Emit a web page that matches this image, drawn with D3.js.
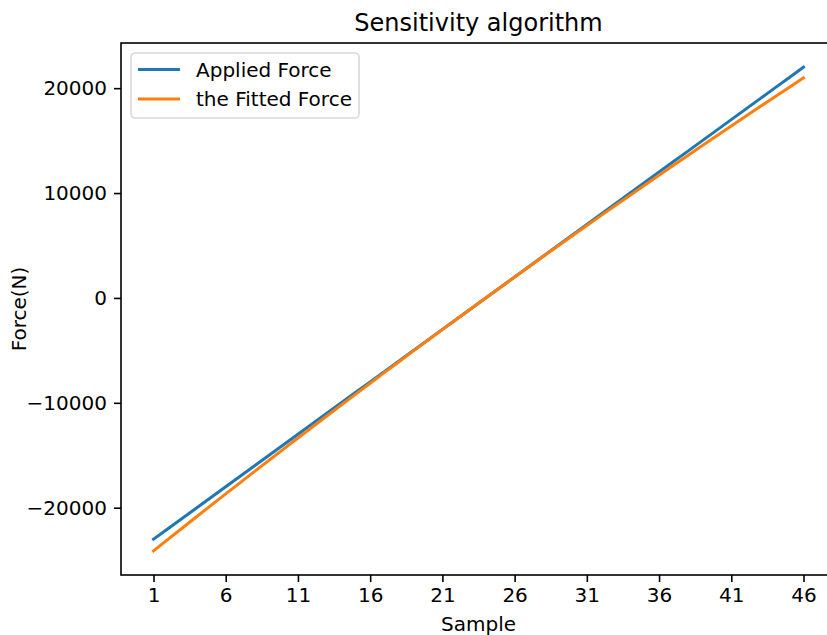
<!DOCTYPE html>
<html>
<head>
<meta charset="utf-8">
<script src="https://cdn.jsdelivr.net/npm/d3@7"></script>
<style>
  body { margin: 0; background: #fff; }
  svg { display: block; font-family: "DejaVu Sans", sans-serif; }
</style>
</head>
<body>
<script>
// samples along the x axis
const samples = d3.range(1, 47);
const xTicks = [1, 6, 11, 16, 21, 26, 31, 36, 41, 46];
const yTicks = [-20000, -10000, 0, 10000, 20000];

// Applied Force
const applied = [
  -23000, -22000, -21000, -20000, -19000, -18000, -17000, -16000, -15000, -14000,
  -13000, -12000, -11000, -10000, -9000, -8000, -7000, -6000, -5000, -4000,
  -3000, -2000, -1000, 0, 1000, 2000, 3000, 4000, 5000, 6000,
  7000, 8000, 9000, 10000, 11000, 12000, 13000, 14000, 15000, 16000,
  17000, 18000, 19000, 20000, 21000, 22000
];

// the Fitted Force
const fitted = [
  -24110, -23020, -21930, -20840, -19760, -18680, -17610, -16540, -15470, -14410,
  -13360, -12300, -11250, -10210, -9170, -8130, -7100, -6080, -5050, -4030,
  -3020, -2010, -1000, 0, 1000, 1990, 2980, 3970, 4950, 5920,
  6900, 7870, 8830, 9790, 10750, 11700, 12650, 13590, 14530, 15460,
  16390, 17320, 18240, 19160, 20070, 20980
];

const seriesNames = ["Applied Force", "the Fitted Force"];
const colors = ["#1f77b4", "#ff7f0e"];

const W = 827, H = 635;
const margin = { top: 43, left: 121, bottom: 60, right: -9 }; // right spine falls outside the crop
const width = W - margin.left - margin.right,
  height = H - margin.top - margin.bottom;

const svg = d3.select("body").append("svg")
  .attr("width", W)
  .attr("height", H);

const g = svg.append("g")
  .attr("transform", `translate(${margin.left}, ${margin.top})`);

// matplotlib-style 5% padding on the data extent
const xPad = (46 - 1) * 0.05;
const x = d3.scaleLinear().domain([1 - xPad, 46 + xPad]).range([0, width]);

const allY = applied.concat(fitted);
const yMin = d3.min(allY), yMax = d3.max(allY);
const yPad = (yMax - yMin) * 0.05;
const y = d3.scaleLinear().domain([yMin - yPad, yMax + yPad]).range([height, 0]);

const fmt = (v) => (v < 0 ? "\u2212" + Math.abs(v) : String(v));

// lines
const line = d3.line()
  .x((d) => x(d[0]))
  .y((d) => y(d[1]));

[applied, fitted].forEach((vals, i) => {
  g.append("path")
    .datum(samples.map((s, j) => [s, vals[j]]))
    .attr("fill", "none")
    .attr("stroke", colors[i])
    .attr("stroke-width", 3)
    .attr("stroke-linecap", "square")
    .attr("d", line);
});

// axes
const xAxis = g.append("g")
  .attr("transform", `translate(0, ${height})`)
  .call(d3.axisBottom(x).tickValues(xTicks).tickSize(7).tickPadding(6).tickFormat(d3.format("d")));

const yAxis = g.append("g")
  .call(d3.axisLeft(y).tickValues(yTicks).tickSize(7).tickPadding(7).tickFormat(fmt));

[xAxis, yAxis].forEach((ax) => {
  ax.select(".domain").remove();
  ax.selectAll(".tick line").attr("stroke", "#000").attr("stroke-width", 1.6);
  ax.selectAll(".tick text")
    .attr("fill", "#000")
    .style("font-size", "20px")
    .style("font-family", "DejaVu Sans, sans-serif");
});

// frame
g.append("rect")
  .attr("x", 0)
  .attr("y", 0)
  .attr("width", width)
  .attr("height", height)
  .attr("fill", "none")
  .attr("stroke", "#000")
  .attr("stroke-width", 1.6);

// title and labels
svg.append("text")
  .attr("x", margin.left + width / 2)
  .attr("y", 31)
  .attr("text-anchor", "middle")
  .style("font-size", "24px")
  .text("Sensitivity algorithm");

svg.append("text")
  .attr("x", margin.left + width / 2)
  .attr("y", 631)
  .attr("text-anchor", "middle")
  .style("font-size", "20px")
  .text("Sample");

svg.append("text")
  .attr("transform", `translate(26, ${margin.top + height / 2}) rotate(-90)`)
  .attr("text-anchor", "middle")
  .style("font-size", "20px")
  .text("Force(N)");

// legend
const legend = g.append("g").attr("transform", "translate(10, 10)");
legend.append("rect")
  .attr("width", 228)
  .attr("height", 65)
  .attr("rx", 4)
  .attr("fill", "#fff")
  .attr("fill-opacity", 0.8)
  .attr("stroke", "#d9d9d9")
  .attr("stroke-width", 1.6);

seriesNames.forEach((name, i) => {
  const row = legend.append("g").attr("transform", `translate(0, ${16.5 + i * 29.4})`);
  row.append("line")
    .attr("x1", 7)
    .attr("x2", 49)
    .attr("stroke", colors[i])
    .attr("stroke-width", 3);
  row.append("text")
    .attr("x", 65)
    .attr("dy", "0.35em")
    .style("font-size", "20px")
    .text(name);
});
</script>
</body>
</html>
